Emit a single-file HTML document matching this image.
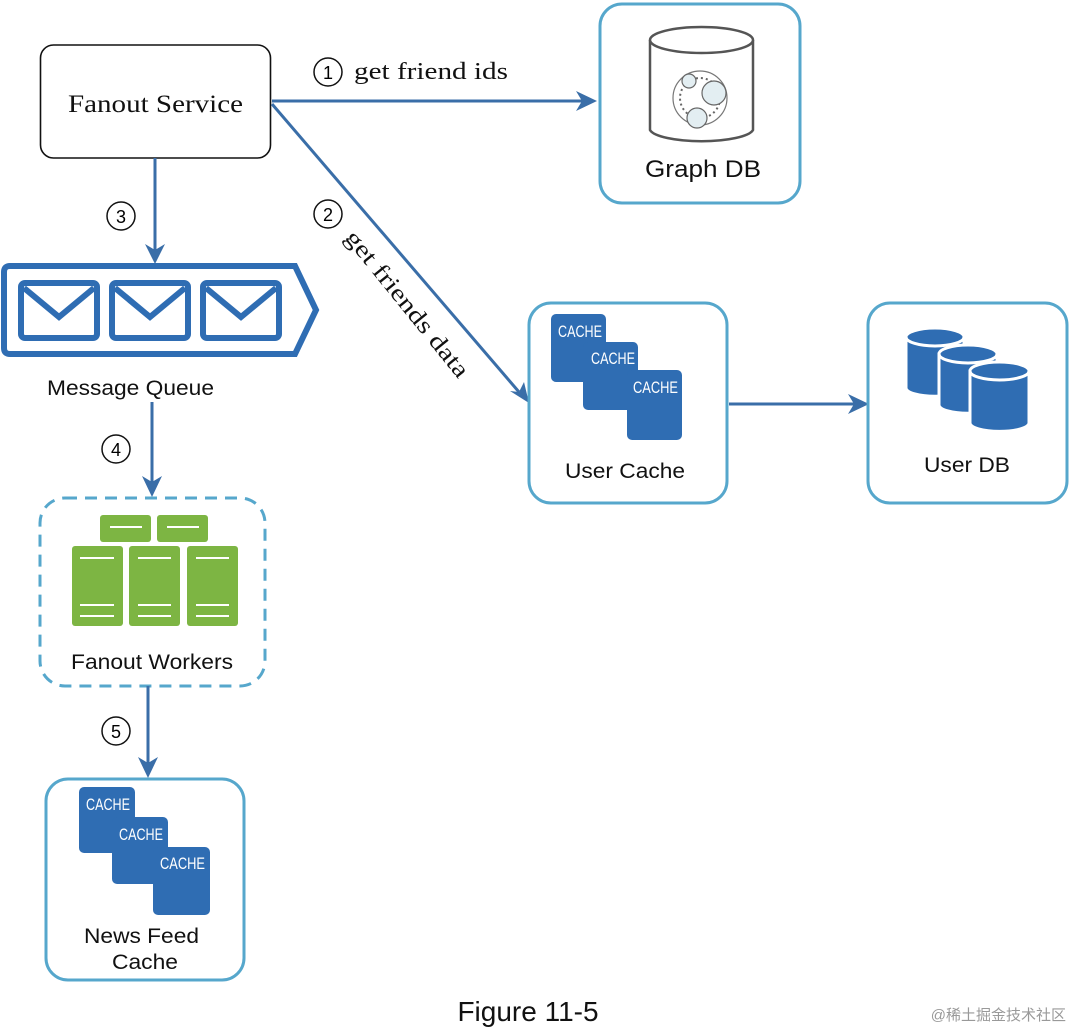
<!DOCTYPE html>
<html><head><meta charset="utf-8"><style>
html,body{margin:0;padding:0;background:#fff;}
svg{display:block;}
.sans{font-family:"Liberation Sans",sans-serif;}
.serif{font-family:"Liberation Serif",serif;}
.c{font-family:"Liberation Sans",sans-serif;font-size:17px;fill:#fff;}
</style></head><body>
<svg width="1073" height="1031" viewBox="0 0 1073 1031" xmlns="http://www.w3.org/2000/svg">
<!-- Fanout Service -->
<rect x="40.5" y="45" width="230" height="113" rx="13" fill="#fff" stroke="#111" stroke-width="1.6"/>
<text x="68" y="112" class="serif" font-size="25" textLength="175" lengthAdjust="spacingAndGlyphs" fill="#111">Fanout Service</text>

<!-- arrow 1 -->
<line x1="272" y1="101" x2="582" y2="101" stroke="#3a6ea8" stroke-width="3"/>
<polygon points="597,101 576,91 582,101 576,111" fill="#3a6ea8"/>
<circle cx="328" cy="72" r="14" fill="#fff" stroke="#111" stroke-width="1.5"/>
<text x="328" y="79" class="sans" font-size="18" text-anchor="middle">1</text>
<text x="354" y="79" class="serif" font-size="24" textLength="154" lengthAdjust="spacingAndGlyphs" fill="#111">get friend ids</text>

<!-- Graph DB -->
<rect x="600" y="4" width="200" height="199" rx="22" fill="#fff" stroke="#56a7cc" stroke-width="3"/>
<path d="M650,40 V130 A52,13 0 0 0 753,130 V40" fill="#fff" stroke="#555" stroke-width="2.5"/>
<ellipse cx="701.5" cy="40" rx="51.5" ry="13" fill="#fff" stroke="#555" stroke-width="2.5"/>
<circle cx="700" cy="98" r="27" fill="none" stroke="#777" stroke-width="1.2"/>
<circle cx="700" cy="98" r="20" fill="none" stroke="#666" stroke-width="2" stroke-dasharray="2 3"/>
<circle cx="689" cy="81" r="7" fill="#e3eef2" stroke="#666" stroke-width="1.2"/>
<circle cx="714" cy="93" r="12" fill="#e3eef2" stroke="#666" stroke-width="1.2"/>
<circle cx="697" cy="118" r="10" fill="#e3eef2" stroke="#666" stroke-width="1.2"/>
<text x="645" y="177" class="sans" font-size="24" textLength="116" lengthAdjust="spacingAndGlyphs" fill="#111">Graph DB</text>

<!-- arrow 2 -->
<line x1="272" y1="104" x2="519" y2="392" stroke="#3a6ea8" stroke-width="3"/>
<polygon points="529,403 510,391 519,392 524,382" fill="#3a6ea8"/>
<circle cx="328" cy="214" r="14" fill="#fff" stroke="#111" stroke-width="1.5"/>
<text x="328" y="221" class="sans" font-size="18" text-anchor="middle">2</text>
<text transform="translate(344,238) rotate(51)" class="serif" font-size="24" textLength="182" lengthAdjust="spacingAndGlyphs" fill="#111">get friends data</text>

<!-- User Cache -->
<rect x="529" y="303" width="198" height="200" rx="22" fill="#fff" stroke="#56a7cc" stroke-width="3"/>
<rect x="551" y="314" width="55" height="68" rx="5" fill="#2f6db3"/>
<rect x="583" y="342" width="55" height="68" rx="5" fill="#2f6db3"/>
<rect x="627" y="370" width="55" height="70" rx="5" fill="#2f6db3"/>
<text x="558" y="337" class="c" textLength="44" lengthAdjust="spacingAndGlyphs">CACHE</text>
<text x="591" y="364" class="c" textLength="44" lengthAdjust="spacingAndGlyphs">CACHE</text>
<text x="633" y="393" class="c" textLength="45" lengthAdjust="spacingAndGlyphs">CACHE</text>
<text x="565" y="478" class="sans" font-size="21" textLength="120" lengthAdjust="spacingAndGlyphs" fill="#111">User Cache</text>

<!-- arrow UC->UDB -->
<line x1="729" y1="404" x2="855" y2="404" stroke="#3a6ea8" stroke-width="3"/>
<polygon points="869,404 848,394 854,404 848,414" fill="#3a6ea8"/>

<!-- User DB -->
<rect x="868" y="303" width="199" height="200" rx="22" fill="#fff" stroke="#56a7cc" stroke-width="3"/>
<g fill="#2f6db3" stroke="#fff" stroke-width="3">
<path d="M906,337 V388 A28,8 0 0 0 964,388 V337 Z"/><ellipse cx="935" cy="337" rx="29" ry="9"/>
<path d="M939,354 V405 A28,8 0 0 0 997,405 V354 Z"/><ellipse cx="968" cy="354" rx="29" ry="9"/>
<path d="M970,371 V423 A28,8 0 0 0 1029,423 V371 Z"/><ellipse cx="999.5" cy="371" rx="29.5" ry="9"/>
</g>
<text x="924" y="472" class="sans" font-size="21" textLength="86" lengthAdjust="spacingAndGlyphs" fill="#111">User DB</text>

<!-- arrow 3 -->
<line x1="155" y1="158" x2="155" y2="250" stroke="#3a6ea8" stroke-width="3"/>
<polygon points="155,264 145,244 155,250 165,244" fill="#3a6ea8"/>
<circle cx="121" cy="216" r="14" fill="#fff" stroke="#111" stroke-width="1.5"/>
<text x="121" y="223" class="sans" font-size="18" text-anchor="middle">3</text>

<!-- Message Queue -->
<path d="M10,266 H295 L316,310 L295,354 H10 Q4,354 4,348 V272 Q4,266 10,266 Z" fill="#fff" stroke="#2f6db3" stroke-width="6"/>
<g fill="none" stroke="#2f6db3" stroke-width="6">
<rect x="21" y="283" width="76" height="55" rx="4"/>
<polyline points="24,288 59,317 94,288"/>
<rect x="112" y="283" width="76" height="55" rx="4"/>
<polyline points="115,288 150,317 185,288"/>
<rect x="203" y="283" width="76" height="55" rx="4"/>
<polyline points="206,288 241,317 276,288"/>
</g>
<text x="47" y="395" class="sans" font-size="21" textLength="167" lengthAdjust="spacingAndGlyphs" fill="#111">Message Queue</text>

<!-- arrow 4 -->
<line x1="152" y1="402" x2="152" y2="482" stroke="#3a6ea8" stroke-width="3"/>
<polygon points="152,497 142,476 152,482 162,476" fill="#3a6ea8"/>
<circle cx="116" cy="449" r="14" fill="#fff" stroke="#111" stroke-width="1.5"/>
<text x="116" y="456" class="sans" font-size="18" text-anchor="middle">4</text>

<!-- Fanout Workers -->
<rect x="40" y="498" width="225" height="188" rx="25" fill="#fff" stroke="#56a7cc" stroke-width="3" stroke-dasharray="12 8"/>
<g fill="#7db543">
<rect x="100" y="515" width="51" height="27" rx="3"/>
<rect x="157" y="515" width="51" height="27" rx="3"/>
<rect x="72" y="546" width="51" height="80" rx="3"/>
<rect x="129" y="546" width="51" height="80" rx="3"/>
<rect x="187" y="546" width="51" height="80" rx="3"/>
</g>
<g stroke="#fff" stroke-width="2">
<line x1="110" y1="527" x2="142" y2="527"/><line x1="167" y1="527" x2="199" y2="527"/>
<line x1="80" y1="558" x2="114" y2="558"/><line x1="138" y1="558" x2="171" y2="558"/><line x1="196" y1="558" x2="229" y2="558"/>
<line x1="80" y1="605" x2="114" y2="605"/><line x1="138" y1="605" x2="171" y2="605"/><line x1="196" y1="605" x2="229" y2="605"/>
<line x1="80" y1="616" x2="114" y2="616"/><line x1="138" y1="616" x2="171" y2="616"/><line x1="196" y1="616" x2="229" y2="616"/>
</g>
<text x="71" y="669" class="sans" font-size="21" textLength="162" lengthAdjust="spacingAndGlyphs" fill="#111">Fanout Workers</text>

<!-- arrow 5 -->
<line x1="148" y1="686" x2="148" y2="763" stroke="#3a6ea8" stroke-width="3"/>
<polygon points="148,778 138,757 148,763 158,757" fill="#3a6ea8"/>
<circle cx="116" cy="731" r="14" fill="#fff" stroke="#111" stroke-width="1.5"/>
<text x="116" y="738" class="sans" font-size="18" text-anchor="middle">5</text>

<!-- News Feed Cache -->
<rect x="46" y="779" width="198" height="201" rx="22" fill="#fff" stroke="#56a7cc" stroke-width="3"/>
<rect x="79" y="787" width="56" height="66" rx="5" fill="#2f6db3"/>
<rect x="112" y="817" width="56" height="67" rx="5" fill="#2f6db3"/>
<rect x="153" y="847" width="57" height="68" rx="5" fill="#2f6db3"/>
<text x="86" y="810" class="c" textLength="44" lengthAdjust="spacingAndGlyphs">CACHE</text>
<text x="119" y="840" class="c" textLength="44" lengthAdjust="spacingAndGlyphs">CACHE</text>
<text x="160" y="869" class="c" textLength="45" lengthAdjust="spacingAndGlyphs">CACHE</text>
<text x="84" y="943" class="sans" font-size="21" textLength="115" lengthAdjust="spacingAndGlyphs" fill="#111">News Feed</text>
<text x="112" y="969" class="sans" font-size="21" textLength="66" lengthAdjust="spacingAndGlyphs" fill="#111">Cache</text>

<text x="528" y="1021" class="sans" font-size="28" text-anchor="middle" fill="#111">Figure 11-5</text>
<text x="1066" y="1020" font-family="'Liberation Sans','Noto Sans CJK SC',sans-serif" font-size="15" text-anchor="end" fill="#999">@稀土掘金技术社区</text>
</svg>
</body></html>
